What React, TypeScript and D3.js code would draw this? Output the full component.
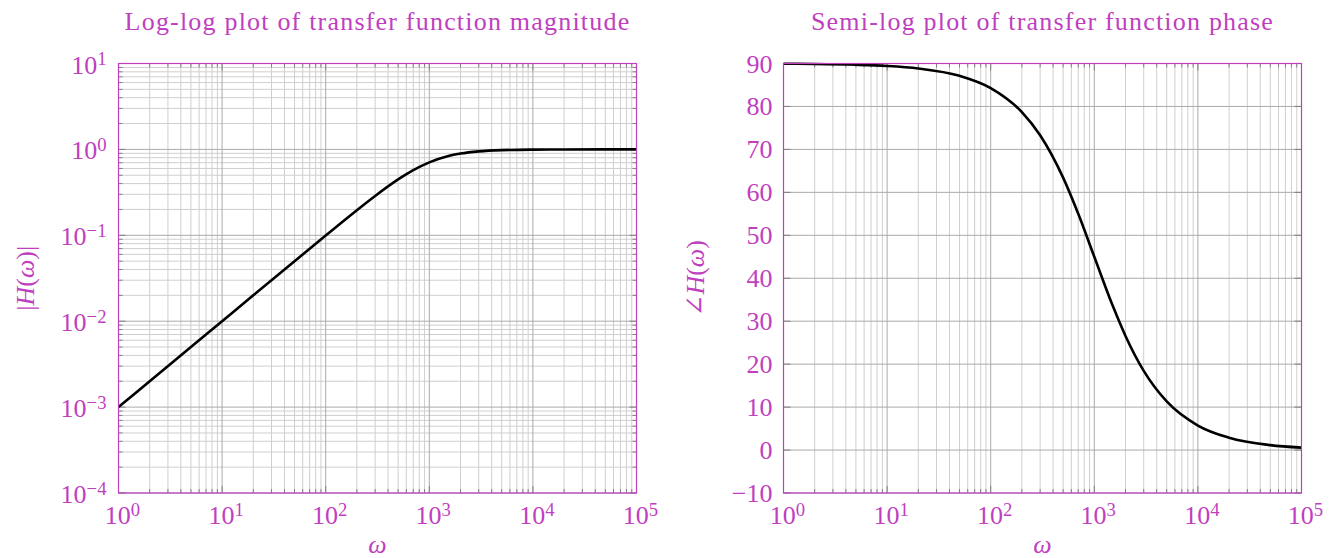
import React from 'react';
import * as d3 from 'd3';

// values (high-pass transfer function)
const omega = [1, 2, 5, 10, 20, 50, 100, 200, 300, 500, 700, 1000, 1500, 2000, 3000, 5000, 10000, 20000, 50000, 100000];
const magnitude = [0.001, 0.002, 0.005, 0.01, 0.02, 0.0499, 0.0995, 0.196, 0.287, 0.447, 0.573, 0.707, 0.832, 0.894, 0.949, 0.981, 0.995, 0.999, 1.0, 1.0];
const phase = [89.94, 89.89, 89.71, 89.43, 88.85, 87.14, 84.29, 78.69, 73.3, 63.43, 55.0, 45.0, 33.69, 26.57, 18.43, 11.31, 5.71, 2.86, 1.15, 0.57];

const xDecades = [0, 1, 2, 3, 4, 5];
const magDecades = [-4, -3, -2, -1, 0, 1];
const phaseTicks = [-10, 0, 10, 20, 30, 40, 50, 60, 70, 80, 90];

const titles = ['Log-log plot of transfer function magnitude', 'Semi-log plot of transfer function phase'];

const MAG = '#bf3fbf';
const FONT = '"Liberation Serif", "DejaVu Serif", serif';
const top = 63.5, bottom = 493;

const minorOf = (decades: number[]) => {
  let out: number[] = [];
  decades.slice(0, -1).forEach(e => {
    for (let k = 2; k <= 9; k++) out.push(k * Math.pow(10, e));
  });
  return out;
};

const Pow = ({ exp, ...rest }: any) => (
  <text {...rest}>
    10<tspan dy="-0.45em" fontSize="0.72em">{exp < 0 ? '\u2212' + Math.abs(exp) : exp}</tspan>
  </text>
);

function Panel({ left, right, title, logY, ylabel }: any) {
  const x = d3.scaleLog().domain([1, 1e5]).range([left, right]);
  const y = logY
    ? d3.scaleLog().domain([1e-4, 10]).range([bottom, top])
    : d3.scaleLinear().domain([-10, 90]).range([bottom, top]);
  const values = logY ? magnitude : phase;
  const line = d3.line<number>()
    .x((d, i) => x(omega[i]))
    .y(d => y(d))
    .curve(d3.curveMonotoneX);

  const xMinor = minorOf(xDecades);
  const xMajor = xDecades.map(e => Math.pow(10, e));
  const yMinor = logY ? minorOf(magDecades) : [];
  const yMajor = logY ? magDecades.map(e => Math.pow(10, e)) : phaseTicks;
  const cx = (left + right) / 2;

  return (
    <g>
      <text x={cx} y={30} textAnchor="middle" fill={MAG} fontSize={26} letterSpacing={1.2} fontFamily={FONT}>{title}</text>
      {/* grid */}
      {xMinor.map(v => <line key={'xm' + v} x1={x(v)} x2={x(v)} y1={top} y2={bottom} stroke="#cfcfcf" />)}
      {yMinor.map(v => <line key={'ym' + v} x1={left} x2={right} y1={y(v)} y2={y(v)} stroke="#cfcfcf" />)}
      {xMajor.map(v => <line key={'xM' + v} x1={x(v)} x2={x(v)} y1={top} y2={bottom} stroke="#aaaaaa" />)}
      {yMajor.map(v => <line key={'yM' + v} x1={left} x2={right} y1={y(v)} y2={y(v)} stroke="#aaaaaa" />)}
      {/* inner ticks */}
      {xMinor.map(v => (
        <g key={'xt' + v} stroke="#808080">
          <line x1={x(v)} x2={x(v)} y1={bottom} y2={bottom - 4} />
          <line x1={x(v)} x2={x(v)} y1={top} y2={top + 4} />
        </g>
      ))}
      {xMajor.map(v => (
        <g key={'xT' + v} stroke="#808080">
          <line x1={x(v)} x2={x(v)} y1={bottom} y2={bottom - 7} />
          <line x1={x(v)} x2={x(v)} y1={top} y2={top + 7} />
        </g>
      ))}
      {yMinor.map(v => (
        <g key={'yt' + v} stroke="#808080">
          <line x1={left} x2={left + 4} y1={y(v)} y2={y(v)} />
          <line x1={right} x2={right - 4} y1={y(v)} y2={y(v)} />
        </g>
      ))}
      {yMajor.map(v => (
        <g key={'yT' + v} stroke="#808080">
          <line x1={left} x2={left + 7} y1={y(v)} y2={y(v)} />
          <line x1={right} x2={right - 7} y1={y(v)} y2={y(v)} />
        </g>
      ))}
      <path d={line(values) || ''} fill="none" stroke="#000" strokeWidth={2.6} />
      <rect x={left} y={top} width={right - left} height={bottom - top} fill="none" stroke={MAG} strokeWidth={1.2} />
      {/* tick labels */}
      {xDecades.map(e => (
        <Pow key={'xl' + e} exp={e} x={x(Math.pow(10, e)) + 4} y={524} textAnchor="middle" fill={MAG} fontSize={26} fontFamily={FONT} />
      ))}
      {logY
        ? magDecades.map(e => (
          <Pow key={'yl' + e} exp={e} x={left - 12} y={y(Math.pow(10, e)) + 10} textAnchor="end" fill={MAG} fontSize={26} fontFamily={FONT} />
        ))
        : phaseTicks.map(v => (
          <text key={'yl' + v} x={left - 11} y={y(v) + 9} textAnchor="end" fill={MAG} fontSize={26} fontFamily={FONT}>
            {v < 0 ? '\u2212' + Math.abs(v) : v}
          </text>
        ))}
      <text x={cx} y={553} textAnchor="middle" fill={MAG} fontSize={26} fontFamily={FONT} fontStyle="italic">ω</text>
      <text transform={`translate(${left - (logY ? 85 : 80)},${(top + bottom) / 2}) rotate(-90)`} textAnchor="middle" fill={MAG} fontSize={26} fontFamily={FONT}>
        {ylabel}
      </text>
    </g>
  );
}

export default function App() {
  return (
    <svg width={1333} height={558} style={{ position: 'absolute', left: 0, top: 0, background: '#fff' }}>
      <Panel left={118.5} right={636.5} title={titles[0]} logY={true}
        ylabel={<>|<tspan fontStyle="italic">H</tspan>(<tspan fontStyle="italic">ω</tspan>)|</>} />
      <Panel left={783.5} right={1301.5} title={titles[1]} logY={false}
        ylabel={<>∠<tspan fontStyle="italic">H</tspan>(<tspan fontStyle="italic">ω</tspan>)</>} />
    </svg>
  );
}
